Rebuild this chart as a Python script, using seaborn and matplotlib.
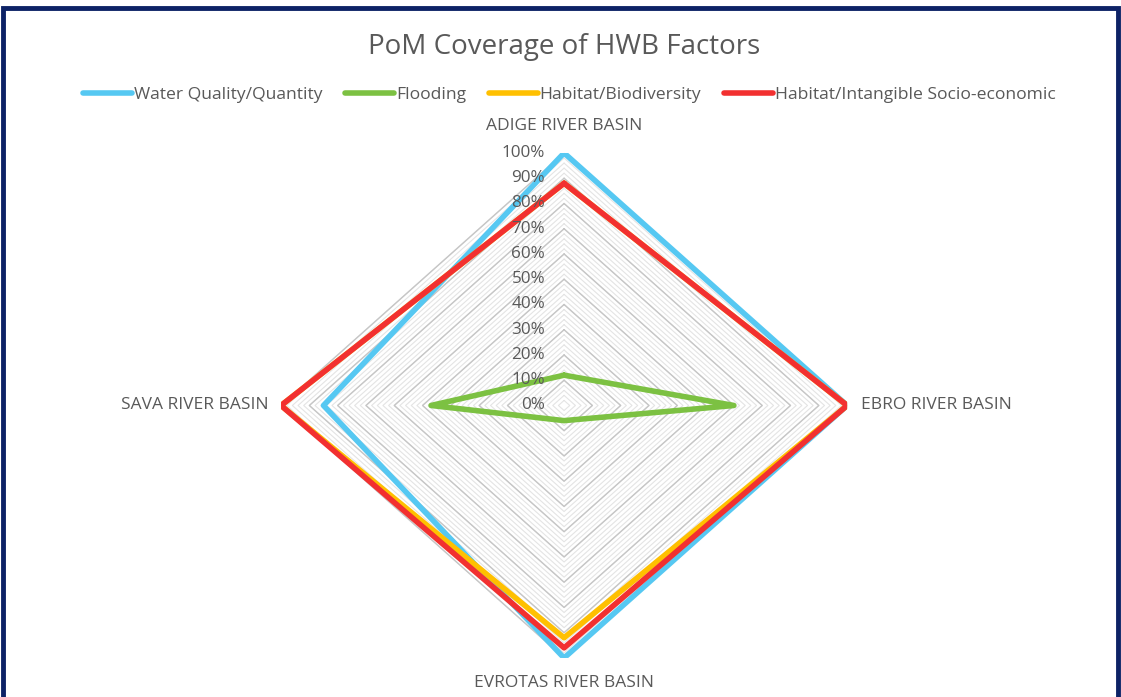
import numpy as np
import matplotlib
matplotlib.use('Agg')
import matplotlib.pyplot as plt
import seaborn as sns
from matplotlib.patches import Rectangle

# ── data ──────────────────────────
categories = ['ADIGE RIVER BASIN', 'EBRO RIVER BASIN', 'EVROTAS RIVER BASIN', 'SAVA RIVER BASIN']
water_quality = [1.00, 1.00, 1.00, 0.85]
flooding = [0.12, 0.60, 0.06, 0.47]
habitat_bio = [0.88, 1.00, 0.92, 1.00]
habitat_socio = [0.88, 1.00, 0.96, 1.00]

series_names = ['Water Quality/Quantity', 'Flooding', 'Habitat/Biodiversity', 'Habitat/Intangible Socio-economic']
series_vals = [water_quality, flooding, habitat_bio, habitat_socio]
series_cols = ['#56c8f2', '#7cc142', '#ffc000', '#f23030']

major_levels = np.arange(0, 1.01, 0.1)
minor_levels = np.arange(0, 1.001, 0.02)
tick_labels = [f'{int(round(v*100))}%' for v in major_levels]

sns.set_theme(style='white')
plt.rcParams['font.family'] = ['Open Sans', 'DejaVu Sans']
TXT = '#595959'

fig = plt.figure(figsize=(11.21, 6.97), dpi=100)
ax = fig.add_axes([0.2507, 0.056, 0.505, 0.7245], projection='polar')
ax.set_aspect('auto')
ax.set_theta_zero_location('N')
ax.set_theta_direction(-1)

n = len(categories)
theta = np.linspace(0, 2*np.pi, n, endpoint=False)
theta_c = np.append(theta, 2*np.pi)

# polygon grid
for lv in minor_levels:
    ax.plot(theta_c, [lv]*(n+1), color='#e4e4e4', lw=0.8, zorder=1)
for lv in major_levels:
    ax.plot(theta_c, [lv]*(n+1), color='#c6c6c6', lw=1.0, zorder=1.5)

for name, vals, col in zip(series_names, series_vals, series_cols):
    sns.lineplot(x=theta_c, y=np.append(vals, vals[0]), ax=ax, sort=False,
                 estimator=None, color=col, lw=4, label=name, zorder=3)

ax.set_ylim(0, 1)
ax.grid(False)
ax.spines['polar'].set_visible(False)
ax.set_xticks([])
ax.set_yticks([])
ax.patch.set_alpha(0)
ax.get_legend().remove()

# radial labels
for lv, lab in zip(major_levels, tick_labels):
    ax.annotate(lab, (0, lv), xytext=(-19, 0), textcoords='offset pixels',
                ha='right', va='center', fontsize=12.3, color=TXT, zorder=4)

# category labels
offs = [(0, 19, 'center', 'bottom'), (14, 0, 'left', 'center'),
        (0, -17, 'center', 'top'), (-12, 0, 'right', 'center')]
for t, cat, (dx, dy, ha, va) in zip(theta, categories, offs):
    ax.annotate(cat, (t, 1.0), xytext=(dx, dy), textcoords='offset pixels',
                ha=ha, va=va, fontsize=12.5, color=TXT, annotation_clip=False)

fig.text(0.503, 0.933, 'PoM Coverage of HWB Factors', ha='center', va='center',
         fontsize=20, color=TXT)

handles, labels = ax.get_legend_handles_labels()
fig.legend(handles, labels, loc='center', bbox_to_anchor=(0.508, 0.864), ncol=4,
           frameon=False, fontsize=12.6, handlelength=2.8, handletextpad=0.1,
           columnspacing=1.3, labelcolor=TXT)

fig.patches.append(Rectangle((0.003, -0.02), 0.994, 1.008, transform=fig.transFigure,
                             fill=False, edgecolor='#0d2266', lw=3.5))

fig.savefig('out.png', dpi=100)
